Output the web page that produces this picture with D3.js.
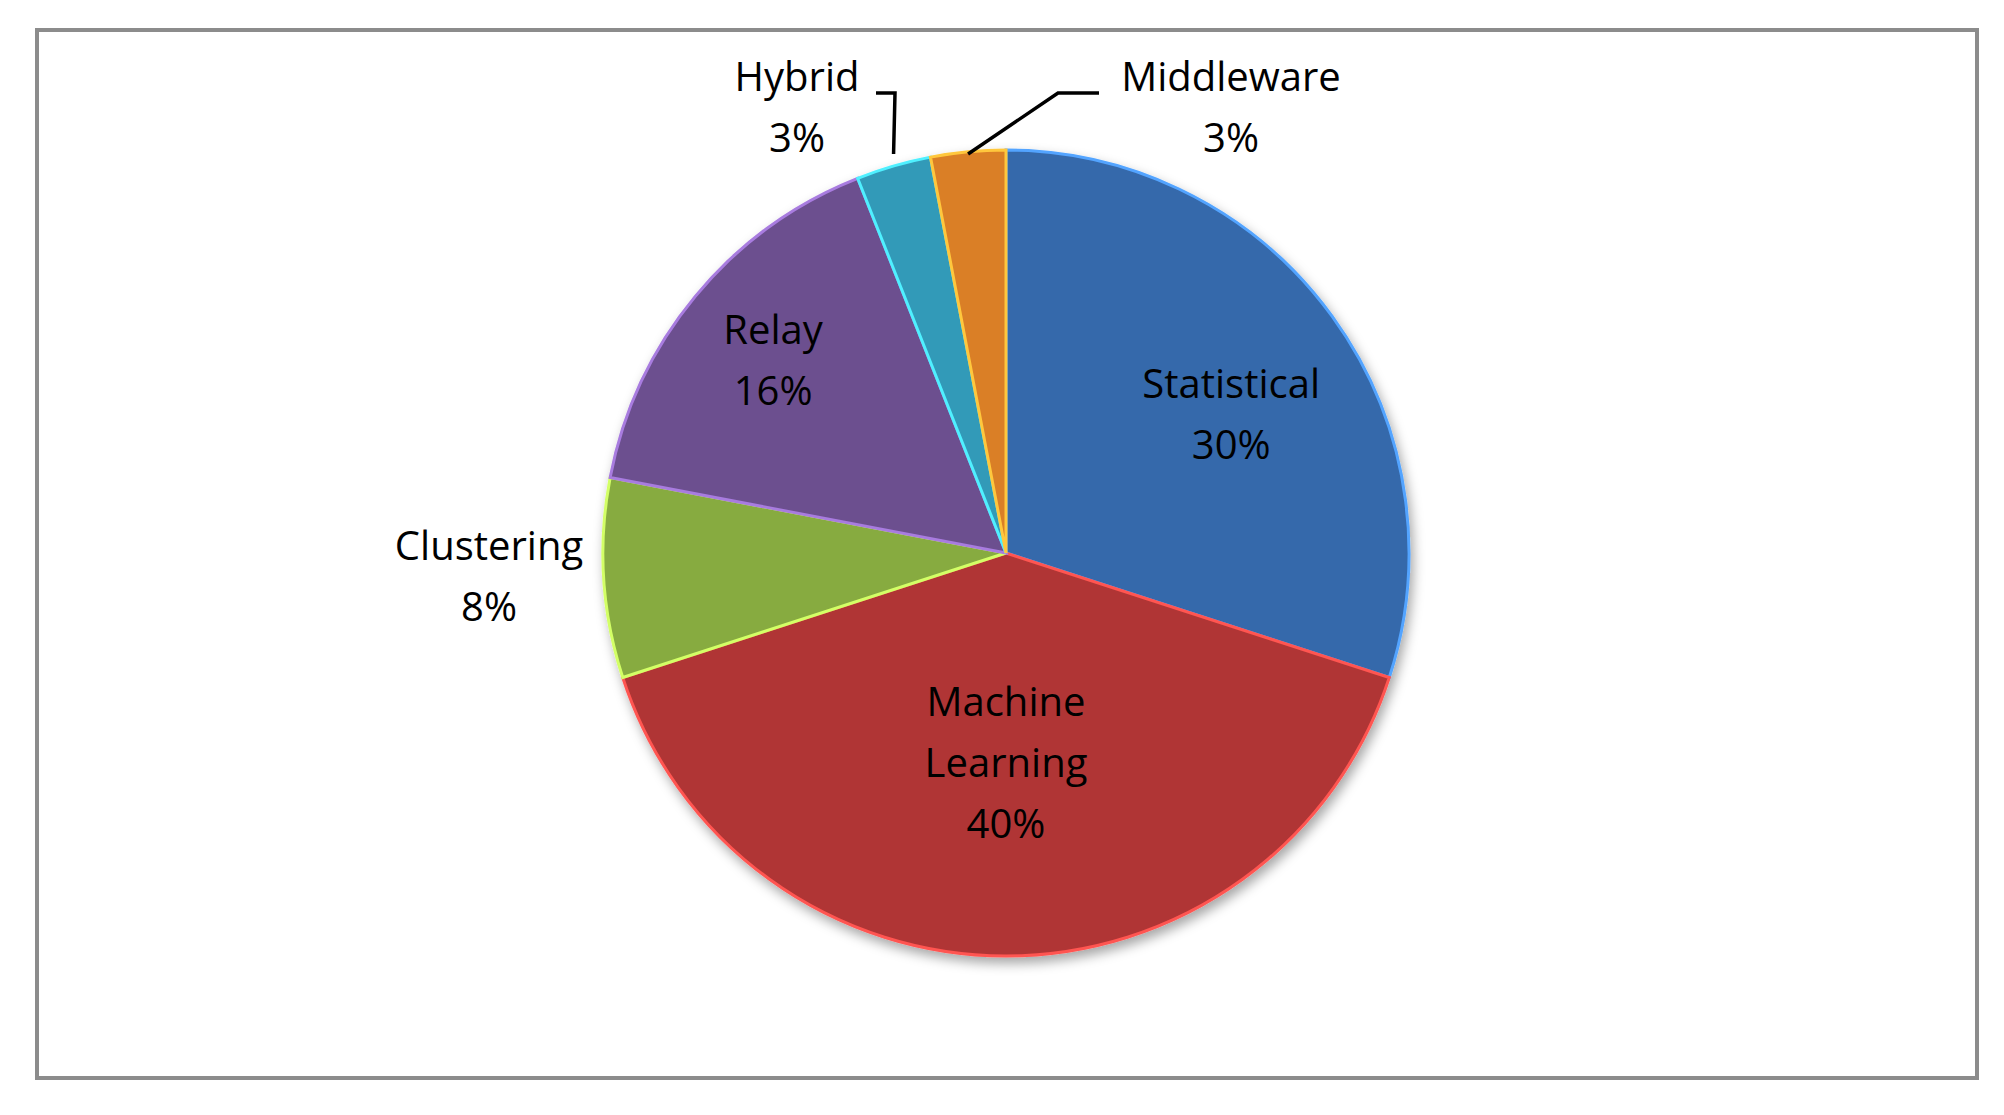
<!DOCTYPE html>
<html><head><meta charset="utf-8">
<script src="https://cdn.jsdelivr.net/npm/d3@7"></script>
<style>body{margin:0;background:#fff}</style>
</head><body>
<script>
// data
const categories = ["Statistical", "Machine Learning", "Clustering", "Relay", "Hybrid", "Middleware"];
const values = [30, 40, 8, 16, 3, 3];
const colors = ["#3c77c2", "#c73d3b", "#99c24a", "#7a59a2", "#3aaed0", "#f7902c"];

const W = 2004, H = 1115, cx = 1006, cy = 553, r = 403;
const svg = d3.select("body").append("svg").attr("width", W).attr("height", H)
  .style("font-family", "'Open Sans', sans-serif");

svg.append("rect").attr("x", 37).attr("y", 30).attr("width", 1940).attr("height", 1048)
  .attr("fill", "#fff").attr("stroke", "#8c8c8c").attr("stroke-width", 4);

const defs = svg.append("defs");
const f = defs.append("filter").attr("id", "sh").attr("x", "-10%").attr("y", "-10%").attr("width", "120%").attr("height", "120%");
f.append("feDropShadow").attr("dx", 3).attr("dy", 6).attr("stdDeviation", 6).attr("flood-opacity", 0.35);
colors.forEach((c, i) => {
  const g = defs.append("radialGradient").attr("id", "g" + i)
    .attr("gradientUnits", "userSpaceOnUse").attr("cx", cx).attr("cy", cy - r * 0.4).attr("r", r * 1.4);
  g.append("stop").attr("offset", "0%").attr("stop-color", d3.color(c).brighter(0.1));
  g.append("stop").attr("offset", "75%").attr("stop-color", c);
  g.append("stop").attr("offset", "100%").attr("stop-color", d3.color(c).darker(0.35));
});

const pie = d3.pie().sort(null).value(d => d)(values);
const arc = d3.arc().innerRadius(0).outerRadius(r);
const g = svg.append("g").attr("transform", `translate(${cx},${cy})`);
const slices = g.append("g").attr("filter", "url(#sh)");
slices.selectAll("path").data(pie).join("path")
  .attr("d", arc).attr("fill", (d, i) => `url(#g${i})`)
  .attr("stroke", (d, i) => d3.color(colors[i]).brighter(0.9)).attr("stroke-width", 3);

// labels
const labelR = [0.66, 0.52, 1.3, 0.75, 0, 0];
const txt = svg.append("g").attr("font-size", 40).attr("fill", "#000").attr("text-anchor", "middle");
function lines(x, y, arr) {
  const t = txt.append("text").attr("x", x).attr("y", y);
  arr.forEach((s, k) => t.append("tspan").attr("x", x).attr("dy", k ? 61 : 0).text(s));
}
pie.forEach((d, i) => {
  const words = (i === 1 ? ["Machine", "Learning"] : [categories[i]]).concat([values[i] + "%"]);
  if (i < 4) {
    const a = (d.startAngle + d.endAngle) / 2;
    let x = cx + Math.sin(a) * r * labelR[i], y = cy - Math.cos(a) * r * labelR[i];
    if (i === 0) { y += 18; x += 10; }
    if (i === 2) { x = cx - 517; y = cy + 23; }
    lines(x, y - (words.length - 1) * 30.5 + 14, words);
  }
});
// outside labels with leaders
const hy = pie[4], mw = pie[5];
const pHy = [Math.sin((hy.startAngle + hy.endAngle) / 2) * r + cx, cy - r * 0.99];
const pMw = [Math.sin((mw.startAngle + mw.endAngle) / 2) * r + cx, cy - r * 0.99];
const lineG = svg.append("g").attr("stroke", "#000").attr("stroke-width", 3.5).attr("fill", "none");
lineG.append("polyline").attr("points", [pHy, [895, 93], [876, 93]].map(p => p.join(",")).join(" "));
lineG.append("polyline").attr("points", [pMw, [1058, 93], [1099, 93]].map(p => p.join(",")).join(" "));
lines(797, 91, ["Hybrid", "3%"]);
lines(1231, 91, ["Middleware", "3%"]);
</script>
</body></html>
